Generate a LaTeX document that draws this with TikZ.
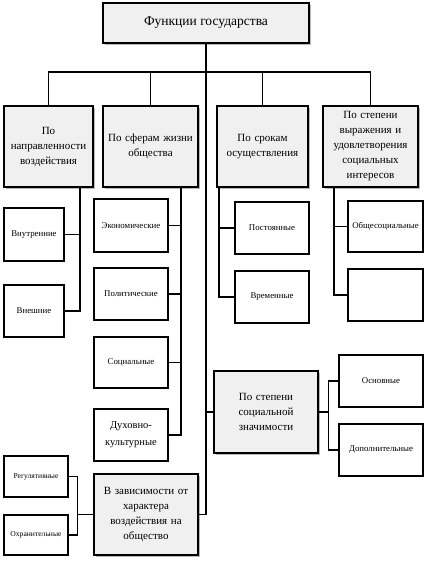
\documentclass[tikz,border=0pt]{standalone}
\usepackage{fontspec}
\setmainfont{Liberation Serif}
\usetikzlibrary{shadows}
\begin{document}
\begin{tikzpicture}[x=1pt,y=-1pt,
  box/.style={draw=black, line width=1.1pt, align=center, inner sep=1pt, anchor=center},
  mainbox/.style={box, fill=gray!12, drop shadow={shadow xshift=1.8pt, shadow yshift=-1.8pt, fill=gray!70, opacity=0.8}},
  subbox/.style={box, fill=white, font=\fontsize{8.8}{10}\selectfont},
  lvl/.style={font=\fontsize{11}{15}\selectfont},
  conn/.style={draw=black, line width=1.1pt}]
\useasboundingbox (0,0) rectangle (424,563);
% top
\node[mainbox, minimum width=206pt, minimum height=40pt, font=\fontsize{13.5}{15}\selectfont] (top) at (206,23) {Функции государства};
% level 2
\node[mainbox, lvl, minimum width=89pt, minimum height=81pt, text width=85pt] (A) at (48.5,146.5) {По\\направленности\\воздействия};
\node[mainbox, lvl, minimum width=95pt, minimum height=81pt, text width=91pt] (B) at (150.5,146.5) {По сферам жизни\\общества};
\node[mainbox, lvl, minimum width=91pt, minimum height=81pt, text width=87pt] (C) at (262.5,146.5) {По срокам\\осуществления};
\node[mainbox, lvl, minimum width=95pt, minimum height=81pt, text width=91pt] (D) at (370.5,146.5) {По степени\\выражения и\\удовлетворения\\социальных\\интересов};
% A children
\node[subbox, minimum width=60pt, minimum height=53pt] (Vn) at (34,234.5) {Внутренние};
\node[subbox, minimum width=60pt, minimum height=52pt] (Vnesh) at (34,311) {Внешние};
% B children
\node[subbox, minimum width=74pt, minimum height=53pt] (Ek) at (131,225.5) {Экономические};
\node[subbox, minimum width=74pt, minimum height=52pt] (Pol) at (131,294) {Политические};
\node[subbox, minimum width=74pt, minimum height=51pt] (Soc) at (131,362.5) {Социальные};
\node[subbox, minimum width=74pt, minimum height=52pt, font=\fontsize{10.5}{17}\selectfont] (Dukh) at (131,435) {Духовно-\\культурные};
% C children
\node[subbox, minimum width=74pt, minimum height=52pt] (Post) at (272,228) {Постоянные};
\node[subbox, minimum width=74pt, minimum height=52pt] (Vrem) at (272,297) {Временные};
% D children
\node[subbox, minimum width=75pt, minimum height=51pt] (Obs) at (385.5,226.5) {Общесоциальные};
\node[subbox, minimum width=75pt, minimum height=52pt] (Emp) at (385.5,295) {};
% social significance
\node[mainbox, lvl, minimum width=104pt, minimum height=82pt, text width=100pt] (SZ) at (266,412) {По степени\\социальной\\значимости};
\node[subbox, minimum width=84pt, minimum height=52pt] (Osn) at (381,381) {Основные};
\node[subbox, minimum width=84pt, minimum height=52pt] (Dop) at (381,450) {Дополнительные};
% dependence
\node[mainbox, lvl, minimum width=104pt, minimum height=81pt, text width=100pt] (VZ) at (146,514.5) {В зависимости от\\характера\\воздействия на\\общество};
\node[subbox, minimum width=64pt, minimum height=41pt, font=\fontsize{7.6}{9}\selectfont] (Reg) at (36,476.5) {Регулятивные};
\node[subbox, minimum width=64pt, minimum height=40pt, font=\fontsize{7.6}{9}\selectfont] (Ohr) at (36,535) {Охранительные};
% connectors
\coordinate (bus) at (0,72);
\draw[conn] (top.south) |- (VZ.east);
\draw[conn] (A.north) |- (bus -| D.north) -- (D.north);
\draw[conn] (B.north) -- (B.north |- bus);
\draw[conn] (C.north) -- (C.north |- bus);
% A
\coordinate (ax) at ([xshift=31.5pt]A.south);
\draw[conn] (ax) |- (Vnesh.east);
\draw[conn] (Vn.east) -- (Vn.east -| ax);
% B
\coordinate (bx) at ([xshift=30.5pt]B.south);
\draw[conn] (bx) |- (Dukh.east);
\draw[conn] (Ek.east) -- (Ek.east -| bx);
\draw[conn] (Pol.east) -- (Pol.east -| bx);
\draw[conn] (Soc.east) -- (Soc.east -| bx);
% C
\coordinate (cx) at ([xshift=-43.5pt]C.south);
\draw[conn] (cx) |- (Vrem.west);
\draw[conn] (Post.west) -- (Post.west -| cx);
% D
\coordinate (dx) at ([xshift=-36.5pt]D.south);
\draw[conn] (dx) |- (Emp.west);
\draw[conn] (Obs.west) -- (Obs.west -| dx);
% SZ
\draw[conn] (SZ.west) -- (SZ.west -| top.south);
\coordinate (sx) at ([xshift=10pt]SZ.east);
\draw[conn] (SZ.east) -- (sx);
\draw[conn] (Osn.west) -| (sx) |- (Dop.west);
% VZ
\coordinate (vx) at ([xshift=-16pt]VZ.west);
\draw[conn] (VZ.west) -- (vx);
\draw[conn] (Reg.east) -| (vx) |- (Ohr.east);
\end{tikzpicture}
\end{document}
